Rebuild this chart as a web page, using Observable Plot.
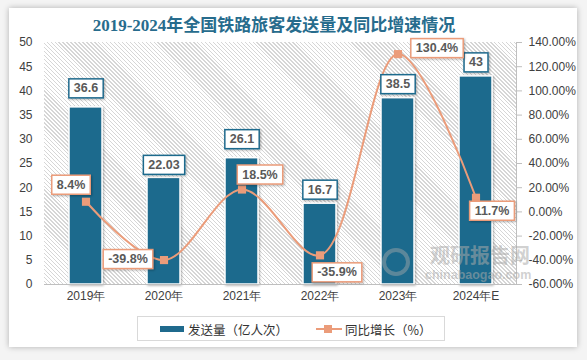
<!DOCTYPE html>
<html><head><meta charset="utf-8">
<script src="https://cdn.jsdelivr.net/npm/d3@7"></script>
<script src="https://cdn.jsdelivr.net/npm/@observablehq/plot@0.6"></script>
<style>
body{margin:0;background:#f4f4f4;font-family:"Liberation Sans","Noto Sans CJK SC",sans-serif;}
#wrap{position:relative;width:587px;height:360px;overflow:hidden;}
#card{position:absolute;left:9px;top:8px;width:568px;height:339px;background:#fff;box-shadow:0 0 6px rgba(0,0,0,0.28);}
#title{position:absolute;left:0;top:16px;width:548px;text-align:center;font:bold 17px "Liberation Serif","Noto Sans CJK SC",serif;color:#276c8d;line-height:20px;}
#chart{position:absolute;left:0;top:34px;}
#hatchbg{position:absolute;background:repeating-linear-gradient(45deg,#ffffff 0px,#ffffff 1.8px,#d6d6d6 1.8px,#d6d6d6 2.8px);}
#legend{position:absolute;left:137px;top:316px;width:306px;height:23px;border:1px solid #d9d9d9;font:12.5px "Noto Sans CJK SC",sans-serif;color:#333;}
#wm{position:absolute;left:380px;top:240px;color:rgba(170,170,170,0.55);pointer-events:none;}
</style></head>
<body><div id="wrap"><div id="card"></div>
<div id="title">2019-2024年全国铁路旅客发送量及同比增速情况</div>
<div id="hatchbg"></div>
<div id="chart"></div>
<div id="legend">
 <svg width="306" height="23" style="position:absolute;left:0;top:0">
  <rect x="22" y="9" width="24" height="6" fill="#1f6a8d"/>
  <line x1="178" y1="12" x2="204" y2="12" stroke="#eb9c7a" stroke-width="2"/>
  <rect x="186" y="8" width="8" height="8" fill="#eb9c7a"/>
 </svg>
 <span style="position:absolute;left:50px;top:3px;">发送量（亿人次）</span>
 <span style="position:absolute;left:207px;top:3px;">同比增长（%）</span>
</div>
<div id="wm">
 <div style="position:absolute;left:2px;top:8px;width:20px;height:20px;border-radius:50%;border:4px solid rgba(170,170,170,0.45);"></div>
 <div style="position:absolute;left:50px;top:3px;font:bold 20px 'Noto Sans CJK SC';white-space:nowrap;line-height:24px;">观研报告网</div>
 <div style="position:absolute;left:45px;top:28px;font:bold 12.5px 'Liberation Sans';white-space:nowrap;line-height:15px;">chinabaogao.com</div>
</div>
</div>
<script>
const categories = ["2019年","2020年","2021年","2022年","2023年","2024年E"];
const volume = [36.6, 22.03, 26.1, 16.7, 38.5, 43];
const volumeLabels = ["36.6","22.03","26.1","16.7","38.5","43"];
const growth = [8.4, -39.8, 18.5, -35.9, 130.4, 11.7];
const growthLabels = ["8.4%","-39.8%","18.5%","-35.9%","130.4%","11.7%"];
const leftTicks = [0,5,10,15,20,25,30,35,40,45,50];
const rightTicks = [-60,-40,-20,0,20,40,60,80,100,120,140];

// right axis [-60,140] shares the left scale [0,50]
const toLeft = p => (p + 60) / 4;
const fromLeft = v => v * 4 - 60;

const bars = categories.map((c,i)=>({c, v: volume[i], t: volumeLabels[i]}));
const pts = categories.map((c,i)=>({c, v: toLeft(growth[i]), t: growthLabels[i]}));

const barDy = [-19,-13,-19,-14,-14,-14];
const lineOff = [[-15,-17],[-36,-1],[18,-15],[17,17],[39,-6],[16,13]];

const BLUE = "#1f6a8d", ORANGE = "#eb9c7a";
const SVG_TOP = 34;

const chart = Plot.plot({
  width: 587, height: 272,
  marginTop: 8, marginBottom: 22, marginLeft: 44, marginRight: 71,
  style: {fontFamily: "Liberation Sans, sans-serif", fontSize: "12px", color: "#404040", background: "transparent", overflow: "visible"},
  x: {domain: categories, paddingInner: 0.58, paddingOuter: 0.29, label: null},
  y: {domain: [0, 50], label: null},
  marks: [
    Plot.barY(bars, {x: "c", y: "v", fill: BLUE, stroke: "#fff", strokeWidth: 1.5}),
    Plot.ruleY([0], {stroke: "#bfbfbf", strokeWidth: 1}),
    Plot.frame({anchor: "right", stroke: "#bfbfbf"}),
    Plot.axisY(leftTicks, {tickSize: 0, tickPadding: 12, fontSize: 12, fill: "#404040"}),
    Plot.axisY(rightTicks.map(toLeft), {anchor: "right", tickSize: 5, tickPadding: 7, fontSize: 12, stroke: "#bfbfbf", fill: "#404040", tickFormat: v => fromLeft(v).toFixed(2) + "%"}),
    Plot.axisX({tickSize: 0, tickPadding: 7, fontSize: 12, fill: "#404040"}),
    Plot.line(pts, {x: "c", y: "v", curve: "catmull-rom", stroke: ORANGE, strokeWidth: 2}),
    Plot.dot(pts, {x: "c", y: "v", symbol: "square", r: 4.6, fill: ORANGE}),
    ...bars.map((d,i) => Plot.text([d], {x: "c", y: "v", text: "t", dy: barDy[i], fontWeight: "bold", fontSize: 12.5, fill: "#595959"})),
    ...pts.map((d,i) => Plot.text([d], {x: "c", y: "v", text: "t", dx: lineOff[i][0], dy: lineOff[i][1], fontWeight: "bold", fontSize: 12.5, fill: "#595959"}))
  ]
});
document.getElementById("chart").appendChild(chart);

// hatched plot-area background placed from the scales' ranges
const xr = chart.scale("x").range, yr = chart.scale("y").range;
const hb = document.getElementById("hatchbg");
hb.style.left = Math.min(...xr) + "px";
hb.style.top = (SVG_TOP + Math.min(...yr)) + "px";
hb.style.width = Math.abs(xr[1]-xr[0]) + "px";
hb.style.height = Math.abs(yr[1]-yr[0]) + "px";

const NS = "http://www.w3.org/2000/svg";
function el(tag, attrs, parent){ const e = document.createElementNS(NS, tag); for (const k in attrs) e.setAttribute(k, attrs[k]); if (parent) parent.appendChild(e); return e; }
const defs = el("defs", {});
const flt = el("filter", {id: "sh", x: "-20%", y: "-20%", width: "150%", height: "150%"}, defs);
el("feDropShadow", {dx: 1, dy: 1, stdDeviation: 1, "flood-color": "#000", "flood-opacity": 0.3}, flt);
chart.insertBefore(defs, chart.firstChild);
const barG = chart.querySelector('g[aria-label="bar"]');
if (barG) barG.setAttribute("filter", "url(#sh)");

const textGroups = chart.querySelectorAll('g[aria-label="text"]');
textGroups.forEach((g, gi) => {
  const color = gi < bars.length ? BLUE : ORANGE;
  g.querySelectorAll("text").forEach(t => {
    const bb = t.getBBox();
    const r = el("rect", {x: bb.x - 5, y: bb.y - 2.5, width: bb.width + 10, height: bb.height + 5, fill: "#fff", stroke: color, "stroke-width": 1.5, filter: "url(#sh)"});
    if (t.getAttribute("transform")) r.setAttribute("transform", t.getAttribute("transform"));
    g.insertBefore(r, t);
  });
});
</script>
</body></html>
